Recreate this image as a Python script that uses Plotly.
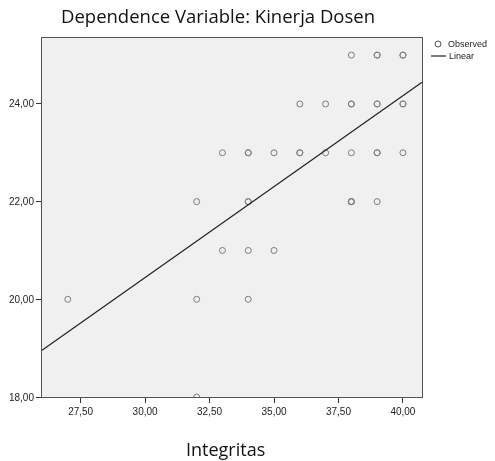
import plotly.graph_objects as go

# Observed data (Integritas vs Kinerja Dosen); repeated pairs are overlapping cases
integritas = [27, 32, 32, 32, 33, 33, 34, 34, 34, 34, 34, 34, 35, 35,
              36, 36, 36, 37, 37, 38, 38, 38, 38, 38, 38, 38,
              39, 39, 39, 39, 39, 39, 39, 40, 40, 40, 40, 40]
kinerja = [20, 22, 20, 18, 23, 21, 23, 23, 22, 22, 21, 20, 23, 21,
           24, 23, 23, 24, 23, 25, 24, 24, 23, 22, 22, 22,
           25, 25, 24, 24, 23, 23, 22, 25, 25, 24, 24, 23]

# Linear fit
intercept = 9.27
slope = 0.3725

x_range = [26.0, 40.74]
y_range = [18.0, 25.35]
x_ticks = [27.5, 30.0, 32.5, 35.0, 37.5, 40.0]
y_ticks = [18, 20, 22, 24]

title_text = "Dependence Variable: Kinerja Dosen"
x_title = "Integritas"
legend_names = ["Observed", "Linear"]

# plot area in pixels: left 42, right 422, top 38, bottom 397
L, R, T, B = 42, 422, 38, 397
def px(x):
    return (x - L) / (R - L)
def py(y):
    return (B - y) / (B - T)

fig = go.Figure()
fig.add_trace(go.Scatter(
    x=integritas, y=kinerja, mode="markers", name=legend_names[0],
    marker=dict(symbol="circle-open", size=6, color="#555555",
                line=dict(width=1, color="#555555")),
    opacity=0.75, showlegend=False,
))
fig.add_trace(go.Scatter(
    x=x_range, y=[intercept + slope * v for v in x_range],
    mode="lines", name=legend_names[1], line=dict(color="#222222", width=1.2),
    showlegend=False,
))

annotations = [
    dict(text=title_text, xref="paper", yref="paper", x=px(218), y=py(15),
         xanchor="center", yanchor="middle", showarrow=False,
         font=dict(family="Open Sans", size=18.5, color="#111111")),
    dict(text=x_title, xref="paper", yref="paper", x=px(225), y=py(449),
         xanchor="center", yanchor="middle", showarrow=False,
         font=dict(family="Open Sans", size=18, color="#111111")),
    dict(text=legend_names[0], xref="paper", yref="paper", x=px(446), y=py(44),
         xanchor="left", yanchor="middle", showarrow=False,
         font=dict(family="Arial", size=9, color="#222222")),
    dict(text=legend_names[1], xref="paper", yref="paper", x=px(447), y=py(56),
         xanchor="left", yanchor="middle", showarrow=False,
         font=dict(family="Arial", size=9, color="#222222")),
]
shapes = [
    dict(type="circle", xref="paper", yref="paper",
         x0=px(435), x1=px(441), y0=py(47), y1=py(41),
         line=dict(color="#555555", width=1)),
    dict(type="line", xref="paper", yref="paper",
         x0=px(431), x1=px(446), y0=py(56), y1=py(56),
         line=dict(color="#222222", width=1.2)),
]

fig.update_layout(
    width=495, height=461,
    margin=dict(l=L, r=495 - R, t=T, b=461 - B),
    paper_bgcolor="white", plot_bgcolor="#f0f0f0",
    separators=",.",
    font=dict(family="Arial", size=10, color="#222222"),
    annotations=annotations, shapes=shapes,
    showlegend=False,
)
fig.update_xaxes(
    range=x_range, tickvals=x_ticks, tickformat=".2f", automargin=False,
    showgrid=False, zeroline=False, showline=True, linecolor="#555555", linewidth=1,
    mirror=True, ticks="outside", ticklen=5, tickcolor="#333333",
    tickfont=dict(family="Arial", size=10, color="#222222"),
)
fig.update_yaxes(
    range=y_range, tickvals=y_ticks, tickformat=".2f", automargin=False,
    showgrid=False, zeroline=False, showline=True, linecolor="#555555", linewidth=1,
    mirror=True, ticks="outside", ticklen=5, tickcolor="#333333",
    tickfont=dict(family="Arial", size=10, color="#222222"),
)

fig.write_html("out.html", config={"displayModeBar": False},
               post_script="document.body.style.margin='0';document.body.style.overflow='hidden';")
